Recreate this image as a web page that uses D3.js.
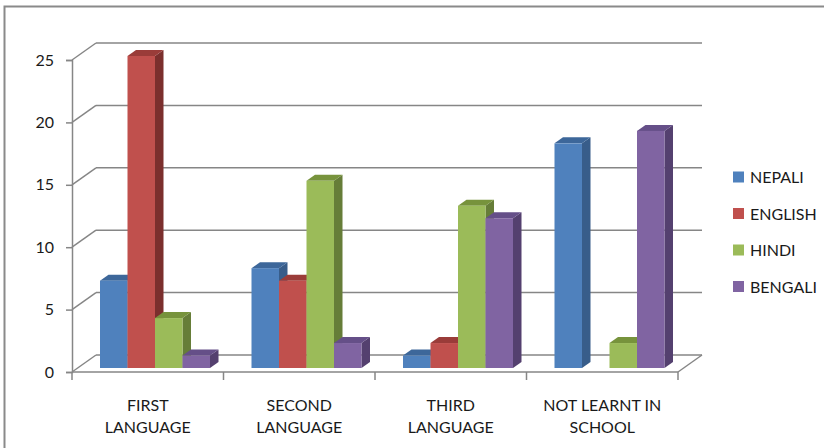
<!DOCTYPE html>
<html>
<head>
<meta charset="utf-8">
<script src="https://cdn.jsdelivr.net/npm/d3@7"></script>
<style>
  html, body { margin: 0; padding: 0; background: #fff; }
  svg { display: block; }
  text { font-family: Lato, "Noto Sans", sans-serif; fill: #1a1a1a; }
</style>
</head>
<body>
<svg id="chart" width="824" height="448"></svg>
<script>
// Categories along the x axis (two-line labels)
const categories = ["FIRST LANGUAGE", "SECOND LANGUAGE", "THIRD LANGUAGE", "NOT LEARNT IN SCHOOL"];
const categoryLines = [["FIRST", "LANGUAGE"], ["SECOND", "LANGUAGE"], ["THIRD", "LANGUAGE"], ["NOT LEARNT IN", "SCHOOL"]];

// Series names and their values per category
const series = ["NEPALI", "ENGLISH", "HINDI", "BENGALI"];
const nepali  = [7, 8, 1, 18];
const english = [25, 7, 2, 0];
const hindi   = [4, 15, 13, 2];
const bengali = [1, 2, 12, 19];
const yTicks = [0, 5, 10, 15, 20, 25];

const values = [nepali, english, hindi, bengali];

// Face colours: front, top, side
const fronts = ["#4f81bd", "#c0504d", "#9bbb59", "#8064a2"];
const tops   = ["#3d679a", "#9a3c39", "#77933c", "#654f88"];
const sides  = ["#385d8a", "#7b2f2d", "#667d38", "#54406f"];

const svg = d3.select("#chart");

// Outer chart frame
svg.append("rect")
  .attr("x", 4.5).attr("y", 6.5)
  .attr("width", 840).attr("height", 460)
  .attr("fill", "none").attr("stroke", "#8a8a8a").attr("stroke-width", 2);

// Front plane of the 3D box
const x0 = 72, x1 = 678, yBase = 372, yTop = 60;
// Depth of the floor/back wall
const depthX = 24, depthY = -17;

const x = d3.scaleBand().domain(categories).range([x0, x1]).paddingInner(0).paddingOuter(0);
const y = d3.scaleLinear().domain([0, 25]).range([yBase, yTop]);

// Bars: front face offset into the box, width per series
const barShiftY = -4;
const barStart = 28;
const xs = d3.scaleBand().domain(series).range([0, 110]).padding(0);
const barDX = 8.5, barDY = -6;

const gridColor = "#868686";

// Back wall gridlines and left wall diagonals
const grid = svg.append("g");
yTicks.forEach(t => {
  const yy = y(t);
  grid.append("line")
    .attr("x1", x0 + depthX).attr("x2", x1 + depthX)
    .attr("y1", yy + depthY).attr("y2", yy + depthY)
    .attr("stroke", gridColor).attr("stroke-width", 1.5);
  grid.append("line")
    .attr("x1", x0).attr("y1", yy)
    .attr("x2", x0 + depthX).attr("y2", yy + depthY)
    .attr("stroke", gridColor).attr("stroke-width", 1.5);
});

// Floor right edge
grid.append("line")
  .attr("x1", x1).attr("y1", yBase)
  .attr("x2", x1 + depthX).attr("y2", yBase + depthY)
  .attr("stroke", gridColor).attr("stroke-width", 1.5);

// Bars
const bars = svg.append("g");
categories.forEach((c, ci) => {
  series.forEach((s, si) => {
    const v = values[si][ci];
    if (v <= 0) return;
    const bx = x(c) + barStart + xs(s);
    const bw = xs.bandwidth();
    const yb = y(0) + barShiftY;
    const yt = y(v) + barShiftY;
    const g = bars.append("g");
    // side face
    g.append("path")
      .attr("d", `M${bx + bw},${yt} L${bx + bw + barDX},${yt + barDY} L${bx + bw + barDX},${yb + barDY} L${bx + bw},${yb} Z`)
      .attr("fill", sides[si]);
    // top face
    g.append("path")
      .attr("d", `M${bx},${yt} L${bx + barDX},${yt + barDY} L${bx + bw + barDX},${yt + barDY} L${bx + bw},${yt} Z`)
      .attr("fill", tops[si]);
    // front face
    g.append("rect")
      .attr("x", bx).attr("y", yt)
      .attr("width", bw).attr("height", yb - yt)
      .attr("fill", fronts[si]);
  });
});

// Y axis
const yAxis = d3.axisLeft(y).tickValues(yTicks).tickSize(6).tickPadding(12);
const yg = svg.append("g").attr("transform", `translate(${x0},0)`).call(yAxis);
yg.select(".domain").attr("stroke", gridColor).attr("stroke-width", 1.5);
yg.selectAll(".tick line").attr("stroke", gridColor).attr("stroke-width", 1.5);
yg.selectAll(".tick text").attr("font-size", 16).attr("fill", "#1a1a1a")
  .style("font-family", "Lato, 'Noto Sans', sans-serif");

// X axis with ticks at category boundaries
const xg = svg.append("g").attr("transform", `translate(0,${yBase})`);
xg.append("line").attr("x1", x0).attr("x2", x1).attr("y1", 0).attr("y2", 0)
  .attr("stroke", gridColor).attr("stroke-width", 1.5);
const bounds = categories.map(c => x(c)).concat([x1]);
xg.selectAll("line.tk").data(bounds).enter().append("line")
  .attr("class", "tk")
  .attr("x1", d => d).attr("x2", d => d)
  .attr("y1", 0).attr("y2", 8)
  .attr("stroke", gridColor).attr("stroke-width", 1.5);

// Category labels
categories.forEach((c, ci) => {
  const cx = x(c) + x.bandwidth() / 2;
  const t = svg.append("text")
    .attr("text-anchor", "middle")
    .attr("font-size", 16);
  categoryLines[ci].forEach((ln, li) => {
    t.append("tspan").attr("x", cx).attr("y", 411 + li * 22).text(ln);
  });
});

// Legend
const legend = svg.append("g").attr("transform", "translate(733,0)");
series.forEach((s, si) => {
  const cy = 177 + si * 36.5;
  legend.append("rect").attr("x", 0).attr("y", cy - 5.5).attr("width", 11).attr("height", 11)
    .attr("fill", fronts[si]);
  legend.append("text").attr("x", 17).attr("y", cy + 6).attr("font-size", 16).text(s);
});
</script>
</body>
</html>
